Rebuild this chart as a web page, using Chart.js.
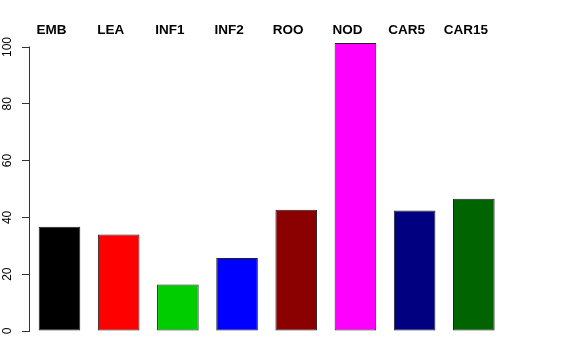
<!DOCTYPE html>
<html>
<head>
<meta charset="utf-8">
<script src="https://cdn.jsdelivr.net/npm/chart.js@4"></script>
<style>
html,body{margin:0;padding:0;background:#fff;}
#wrap{width:576px;height:360px;}
</style>
</head>
<body>
<div id="wrap"><canvas id="c" width="576" height="360"></canvas></div>
<script>
const categories = ["EMB", "LEA", "INF1", "INF2", "ROO", "NOD", "CAR5", "CAR15"];
const values = [36.7, 34.0, 16.4, 25.7, 42.7, 101.4, 42.4, 46.6];
const barColors = ["#000000", "#FF0000", "#00CD00", "#0000FF", "#8B0000", "#FF00FF", "#000080", "#006400"];
const yTicks = [0, 20, 40, 60, 80, 100];

const topLabels = {
  id: 'topLabels',
  afterDraw(chart) {
    const ctx = chart.ctx;
    const xs = chart.scales.x;
    const ys = chart.scales.y;
    ctx.save();
    // y axis line from first to last tick (R style)
    ctx.strokeStyle = '#333';
    ctx.lineWidth = 1;
    ctx.beginPath();
    const ax = Math.round(chart.chartArea.left) - 0.5;
    ctx.moveTo(ax, ys.getPixelForValue(yTicks[0]) + 0.5);
    ctx.lineTo(ax, ys.getPixelForValue(yTicks[yTicks.length - 1]) - 0.5);
    ctx.stroke();
    // category labels on top
    ctx.fillStyle = '#000';
    ctx.font = 'bold 13.5px "Liberation Sans", Arial, sans-serif';
    ctx.textAlign = 'center';
    ctx.textBaseline = 'middle';
    categories.forEach((c, i) => {
      ctx.fillText(c, xs.getPixelForValue(i) - 8, 30);
    });
    ctx.restore();
  }
};

new Chart(document.getElementById('c'), {
  type: 'bar',
  data: {
    labels: categories,
    datasets: [{
      data: values,
      backgroundColor: barColors,
      borderColor: '#222',
      borderWidth: 1,
      borderSkipped: false,
      categoryPercentage: 1,
      barPercentage: 0.703
    }]
  },
  options: {
    responsive: false,
    animation: false,
    layout: { padding: { left: 0, right: 72.6, top: 32.8, bottom: 29 } },
    plugins: { legend: { display: false }, tooltip: { enabled: false } },
    scales: {
      x: { display: false },
      y: {
        min: 0,
        max: 105,
        afterFit: s => { s.width = 29.9; },
        afterBuildTicks: s => { s.ticks = yTicks.map(v => ({ value: v })); },
        border: { display: false },
        grid: { drawOnChartArea: false, drawTicks: true, tickLength: 8, color: '#333', lineWidth: 1 },
        ticks: {
          minRotation: 90,
          maxRotation: 90,
          crossAlign: 'center',
          padding: 4,
          color: '#000',
          font: { family: '"Liberation Sans", Arial, sans-serif', size: 12 }
        }
      }
    }
  },
  plugins: [topLabels]
});
</script>
</body>
</html>
